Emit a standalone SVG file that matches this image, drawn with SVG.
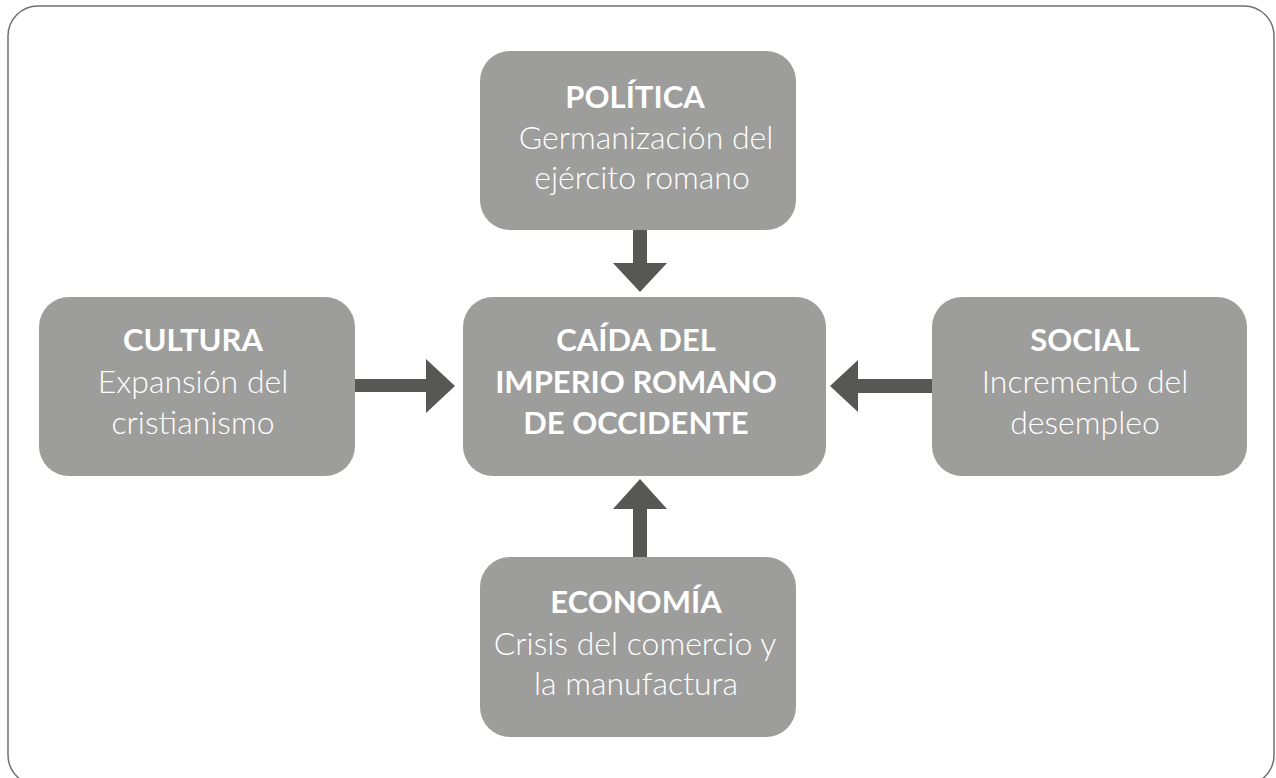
<svg xmlns="http://www.w3.org/2000/svg" width="1276" height="778" viewBox="0 0 1276 778">
<defs>
<style>
.box{fill:#9d9d9c;}
.t{font-family:Lato,"Liberation Sans",sans-serif;fill:#ffffff;text-anchor:middle;}
.b{font-weight:700;font-size:31px;}
.l{font-weight:300;font-size:32px;}
.arr{fill:#575756;}
</style>
</defs>
<rect x="8" y="6" width="1266" height="779" rx="30" ry="30" fill="#ffffff" stroke="#6f6f6f" stroke-width="1.5"/>
<g id="connectors">
<polygon class="arr" points="633,230 647,230 647,263 667,263 640,292 613,263 633,263"/>
<polygon class="arr" points="633,557 647,557 647,509 667,509 640,479 613,509 633,509"/>
<polygon class="arr" points="355,379 426,379 426,359 455,386 426,413 426,392 355,392"/>
<polygon class="arr" points="932,379 858,379 858,360 830,386 858,412 858,393 932,393"/>
</g>
<g id="politica">
<rect class="box" x="480" y="51" width="316" height="179" rx="30"/>
<text class="t b" x="635" y="108">POLÍTICA</text>
<text class="t l" x="646" y="149">Germanización del</text>
<text class="t l" x="642" y="189">ejército romano</text>
</g>
<g id="centro">
<rect class="box" x="463" y="297" width="363" height="179" rx="30"/>
<text class="t b" x="636" y="351">CAÍDA DEL</text>
<text class="t b" x="636" y="393">IMPERIO ROMANO</text>
<text class="t b" x="636" y="434">DE OCCIDENTE</text>
</g>
<g id="cultura">
<rect class="box" x="39" y="297" width="316" height="179" rx="30"/>
<text class="t b" x="193" y="351">CULTURA</text>
<text class="t l" x="193" y="393">Expansión del</text>
<text class="t l" x="193" y="434">cristianismo</text>
</g>
<g id="social">
<rect class="box" x="932" y="297" width="315" height="179" rx="30"/>
<text class="t b" x="1085" y="351">SOCIAL</text>
<text class="t l" x="1085" y="393">Incremento del</text>
<text class="t l" x="1085" y="434">desempleo</text>
</g>
<g id="economia">
<rect class="box" x="480" y="557" width="316" height="180" rx="30"/>
<text class="t b" x="636" y="613">ECONOMÍA</text>
<text class="t l" x="635" y="655">Crisis del comercio y</text>
<text class="t l" x="636" y="695">la manufactura</text>
</g>
</svg>
